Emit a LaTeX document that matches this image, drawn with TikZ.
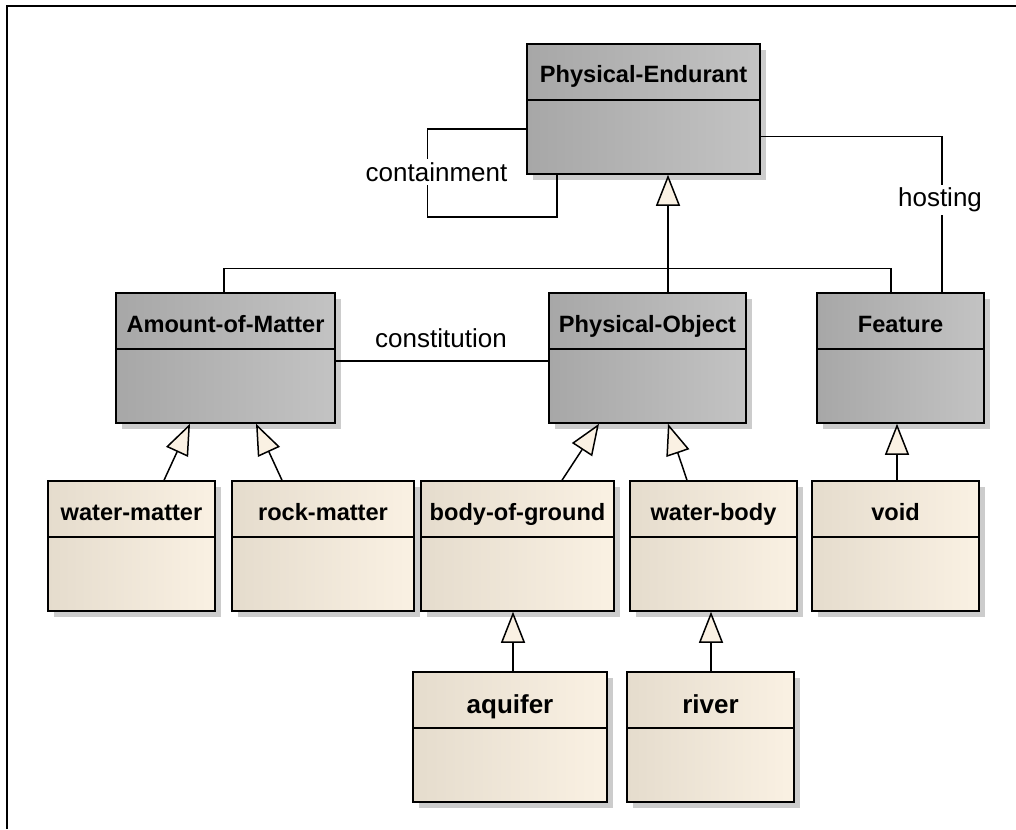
\documentclass[tikz,border=0pt]{standalone}
\usepackage{fontspec}
\setmainfont{Liberation Sans}
\usepackage{tikz}
\usepackage{xcolor}
\usetikzlibrary{arrows.meta,shadows}

\definecolor{gleft}{HTML}{A7A7A7}
\definecolor{gright}{HTML}{C3C3C3}
\definecolor{cleft}{HTML}{E5DCCD}
\definecolor{cright}{HTML}{FAF1E3}
\definecolor{cream}{HTML}{FAF1E3}

\begin{document}
\begin{tikzpicture}[x=1pt,y=-1pt]
\tikzstyle{cls} = [draw, line width=1.5pt, minimum height=130pt, inner sep=0pt, text height=16pt, text depth=68pt, font=\bfseries\fontsize{23.6}{28}\selectfont, drop shadow={shadow xshift=6pt, shadow yshift=-6pt, fill=black!20, opacity=1}, path picture={\draw[line width=1.5pt] ([yshift=-56pt]path picture bounding box.north west) -- ([yshift=-56pt]path picture bounding box.north east);}]
\tikzstyle{abstract} = [cls, left color=gleft, right color=gright]
\tikzstyle{kind} = [cls, left color=cleft, right color=cright]
\tikzstyle{big} = [font=\bfseries\fontsize{26}{30}\selectfont, text depth=64pt]
\tikzstyle{line} = [line width=1.5pt]
\tikzstyle{gen} = [line width=1.5pt, -{Triangle[fill=cream, length=31pt, width=24pt]}]
\tikzstyle{lbl} = [font=\fontsize{26}{30}\selectfont, inner sep=3pt]
\useasboundingbox (0,0) rectangle (1016,829);
\draw[line width=2.5pt] (7,829) -- (7,6) -- (1016,6);
\node(pe)[abstract, minimum width=233pt] at (643.5,109) {Physical-Endurant};
\node(aom)[abstract, minimum width=219pt] at (225.5,358) {Amount-of-Matter};
\node(po)[abstract, minimum width=197pt] at (647.5,358) {Physical-Object};
\node(feat)[abstract, minimum width=167pt] at (900.5,358) {Feature};
\node(wm)[kind, minimum width=167pt] at (131.5,546) {water-matter};
\node(rm)[kind, minimum width=182pt] at (323,546) {rock-matter};
\node(bog)[kind, minimum width=193pt] at (517.5,546) {body-of-ground};
\node(wb)[kind, minimum width=167pt] at (713.5,546) {water-body};
\node(vd)[kind, minimum width=167pt] at (895.5,546) {void};
\node(aq)[kind, big, minimum width=194pt] at (510,737) {aquifer};
\node(rv)[kind, big, minimum width=167pt] at (710.5,737) {river};
\draw[line] ([xshift=-1.5pt]aom.north) -- ++(0,-24) -| ([xshift=-9.5pt]feat.north);
\draw[gen] ([xshift=20.5pt]po.north) -- ([xshift=24.5pt]pe.south);
\draw[line] ([yshift=-20pt]pe.west) -| ++(-99,88) -| ([xshift=-86.5pt]pe.south);
\node(cont)[lbl, fill=white] at (436.5,172) {containment};
\draw[line] ([xshift=41.5pt]feat.north) |- ([yshift=-27.5pt]pe.east);
\node(host)[lbl, fill=white] at (940,200) {hosting};
\draw[line] ([yshift=-3pt]aom.east) -- ([yshift=-3pt]po.west);
\node(constit)[lbl] at (441,338) {constitution};
\draw[gen] ([xshift=32.5pt]wm.north) -- ([xshift=-35.5pt]aom.south);
\draw[gen] ([xshift=-41pt]rm.north) -- ([xshift=30.5pt]aom.south);
\draw[gen] ([xshift=44.5pt]bog.north) -- ([xshift=-48.5pt]po.south);
\draw[gen] ([xshift=-26.5pt]wb.north) -- ([xshift=20.5pt]po.south);
\draw[gen] ([xshift=1.5pt]vd.north) -- ([xshift=-3.5pt]feat.south);
\draw[gen] ([xshift=3pt]aq.north) -- ([xshift=-4.5pt]bog.south);
\draw[gen] ([xshift=0.5pt]rv.north) -- ([xshift=-2.5pt]wb.south);
\end{tikzpicture}
\end{document}
